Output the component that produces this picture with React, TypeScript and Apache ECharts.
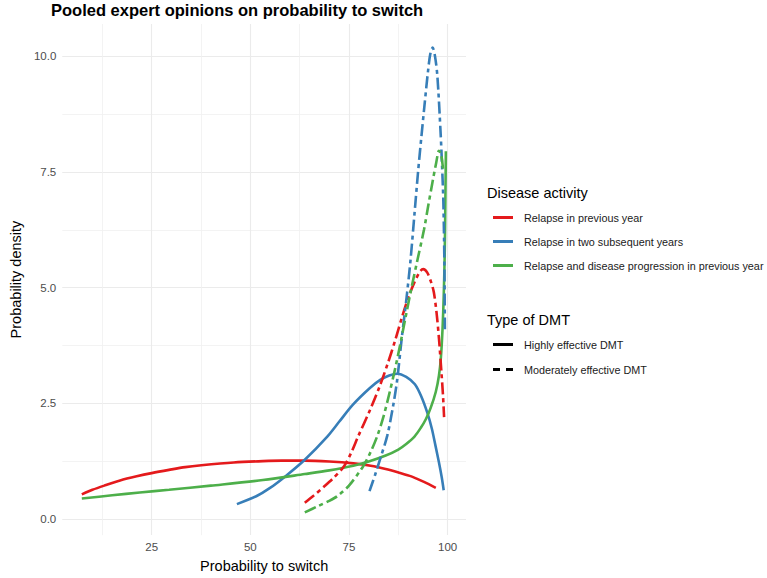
import React, { useEffect, useRef } from "react";
import * as echarts from "echarts";

const xMajor = [25, 50, 75, 100];
const xMinor = [12.5, 37.5, 62.5, 87.5];
const yMajor = [0, 2.5, 5, 7.5, 10];
const yMinor = [1.25, 3.75, 6.25, 8.75];

const activityNames = [
  "Relapse in previous year",
  "Relapse in two subsequent years",
  "Relapse and disease progression in previous year",
];
const dmtNames = ["Highly effective DMT", "Moderately effective DMT"];
const colors = ["#E41A1C", "#377EB8", "#4DAF4A"];

const redSolid: [number, number][] = [
  [7.3, 0.53], [10, 0.63], [13, 0.72], [17, 0.83], [21.2, 0.92], [25, 0.99], [29.4, 1.06],
  [33.5, 1.12], [37.6, 1.16], [45.8, 1.22], [53.2, 1.25], [58, 1.26], [63.8, 1.26], [70, 1.24],
  [76.1, 1.2], [80.5, 1.15], [84.3, 1.08], [87.7, 1.0], [90.8, 0.92], [94, 0.8], [97, 0.67],
];
const redDashed: [number, number][] = [
  [63.8, 0.35], [66, 0.5], [68.7, 0.7], [71, 0.88], [73.6, 1.12], [75.5, 1.42], [77.3, 1.78],
  [80.3, 2.35], [82.7, 2.85], [84.9, 3.38], [86.7, 3.86], [88.5, 4.38], [90.1, 4.8],
  [91.6, 5.12], [93, 5.35], [93.8, 5.4], [94.8, 5.33], [95.8, 5.12], [96.5, 4.9],
  [97.2, 4.45], [97.8, 3.9], [98.4, 3.2], [98.8, 2.7], [99.1, 2.2],
];
const blueSolid: [number, number][] = [
  [46.6, 0.32], [51.5, 0.49], [55, 0.67], [59, 0.93], [63.8, 1.28], [69.5, 1.78], [72.5, 2.1],
  [76, 2.47], [80.3, 2.83], [83, 3.01], [85.2, 3.1], [87.2, 3.14], [89.5, 3.07], [91.7, 2.91],
  [93.3, 2.65], [94.9, 2.28], [96, 1.95], [96.9, 1.59], [97.8, 1.22], [98.5, 0.9], [99.0, 0.62],
];
const blueDashed: [number, number][] = [
  [80.2, 0.6], [81.6, 0.95], [83.1, 1.35], [84.7, 1.8], [86.2, 2.45], [87.2, 3.0],
  [88.4, 3.93], [89.6, 4.79], [90.6, 5.6], [91.6, 6.6], [92.5, 7.5], [93.3, 8.22],
  [94.2, 9.0], [95.0, 9.66], [95.6, 10.05], [96.2, 10.19], [96.8, 10.0], [97.4, 9.57],
  [98.2, 8.37], [98.6, 7.6], [98.9, 6.9], [99.1, 6.0], [99.2, 5.3], [99.3, 4.1],
];
const greenSolid: [number, number][] = [
  [7.3, 0.44], [15, 0.51], [22, 0.57], [29.4, 0.63], [40, 0.72], [53.2, 0.84], [63.8, 0.97],
  [70, 1.05], [76.1, 1.15], [80, 1.24], [84.3, 1.37], [87.5, 1.5], [89.5, 1.62], [91.6, 1.78],
  [93.2, 1.97], [94.5, 2.16], [95.7, 2.4], [97, 2.75], [97.8, 3.1], [98.3, 3.5], [98.7, 4.1],
  [99.0, 4.8], [99.25, 5.7], [99.4, 6.7], [99.55, 7.95],
];
const greenDashed: [number, number][] = [
  [63.8, 0.14], [67, 0.27], [70, 0.39], [72, 0.49], [75, 0.72], [78.6, 1.14], [80.5, 1.45],
  [82.2, 1.8], [83.7, 2.2], [85.2, 2.7], [86.7, 3.25], [88, 3.78], [89.2, 4.3], [90.8, 4.98],
  [92.4, 5.62], [94.0, 6.25], [95.1, 6.78], [96.2, 7.3], [97.1, 7.7], [97.8, 7.96],
  [98.4, 7.85], [98.9, 7.5],
];

const solidData = [redSolid, blueSolid, greenSolid];
const dashedData = [redDashed, blueDashed, greenDashed];

const FONT = "'Liberation Sans', Arial, sans-serif";
const DASH = [12, 4, 4, 4];

export default function App() {
  const ref = useRef<HTMLDivElement>(null);
  useEffect(() => {
    if (!ref.current) return;
    const chart = echarts.init(ref.current, undefined, { renderer: "svg" });
    const xRange = { min: 2.35, max: 104.65 };
    const yRange = { min: -0.35, max: 10.7 };
    const series: any[] = [];
    const lineCommon = { type: "line", symbol: "none", smooth: 0.3, z: 3 };
    activityNames.forEach((name, i) => {
      series.push({
        ...lineCommon,
        name,
        data: solidData[i],
        lineStyle: { color: colors[i], width: 2.6, type: "solid" },
        itemStyle: { color: colors[i] },
      });
    });
    activityNames.forEach((name, i) => {
      series.push({
        ...lineCommon,
        name: name + " (moderate)",
        data: dashedData[i],
        lineStyle: { color: colors[i], width: 2.6, type: DASH },
        itemStyle: { color: colors[i] },
      });
    });
    dmtNames.forEach((name) => {
      series.push({
        type: "line",
        name,
        data: [],
        symbol: "none",
        lineStyle: { color: "#000", width: 2.6 },
        itemStyle: { color: "#000" },
      });
    });

    const legendText = { fontSize: 10.8, color: "#1a1a1a", fontFamily: FONT, padding: [0, 0, 0, 6] };

    chart.setOption({
      animation: false,
      backgroundColor: "#ffffff",
      textStyle: { fontFamily: FONT },
      title: {
        text: "Pooled expert opinions on probability to switch",
        left: 46,
        top: -4,
        textStyle: { fontSize: 16.5, fontWeight: "bold", color: "#000", fontFamily: FONT },
      },
      grid: { left: 50, right: 301, top: 24, bottom: 39 },
      xAxis: [
        {
          type: "value",
          ...xRange,
          name: "Probability to switch",
          nameLocation: "middle",
          nameGap: 18,
          nameTextStyle: { fontSize: 14.5, color: "#000", fontFamily: FONT },
          axisLine: { show: false },
          axisTick: { show: false, customValues: xMajor },
          axisLabel: { customValues: xMajor, color: "#4d4d4d", fontSize: 11.5, margin: 6, fontFamily: FONT },
          splitLine: { show: true, lineStyle: { color: "#ebebeb", width: 1.1 } },
        },
        {
          type: "value",
          ...xRange,
          position: "bottom",
          axisLine: { show: false },
          axisTick: { show: false, customValues: xMinor },
          axisLabel: { show: false, customValues: xMinor },
          splitLine: { show: true, lineStyle: { color: "#f0f0f0", width: 0.8 } },
        },
      ],
      yAxis: [
        {
          type: "value",
          ...yRange,
          name: "Probability density",
          nameLocation: "middle",
          nameGap: 35,
          nameTextStyle: { fontSize: 14.5, color: "#000", fontFamily: FONT },
          axisLine: { show: false },
          axisTick: { show: false, customValues: yMajor },
          axisLabel: {
            customValues: yMajor,
            color: "#4d4d4d",
            fontSize: 11.5,
            margin: 6,
            fontFamily: FONT,
            formatter: (v: number) => v.toFixed(1),
          },
          splitLine: { show: true, lineStyle: { color: "#ebebeb", width: 1.1 } },
        },
        {
          type: "value",
          ...yRange,
          position: "left",
          axisLine: { show: false },
          axisTick: { show: false, customValues: yMinor },
          axisLabel: { show: false, customValues: yMinor },
          splitLine: { show: true, lineStyle: { color: "#f0f0f0", width: 0.8 } },
        },
      ],
      legend: [
        {
          data: activityNames.map((n) => ({ name: n, icon: "rect" })),
          orient: "vertical",
          left: 488,
          top: 207,
          itemWidth: 20,
          itemHeight: 3,
          itemGap: 13,
          selectedMode: false,
          textStyle: legendText,
        },
        {
          data: [
            { name: dmtNames[0], icon: "rect" },
            { name: dmtNames[1], icon: "path://M0,0h7v3h-7z M13,0h7v3h-7z" },
          ],
          orient: "vertical",
          left: 488,
          top: 334,
          itemWidth: 20,
          itemHeight: 3,
          itemGap: 14,
          selectedMode: false,
          textStyle: legendText,
        },
      ],
      graphic: [
        {
          type: "text",
          left: 487,
          top: 185,
          style: { text: "Disease activity", fontSize: 14.5, fill: "#000", fontFamily: FONT },
        },
        {
          type: "text",
          left: 487,
          top: 312,
          style: { text: "Type of DMT", fontSize: 14.5, fill: "#000", fontFamily: FONT },
        },
      ],
      series,
    });
    return () => chart.dispose();
  }, []);
  return (
    <div
      ref={ref}
      style={{ position: "fixed", left: 0, top: 0, width: 767, height: 578 }}
    />
  );
}
